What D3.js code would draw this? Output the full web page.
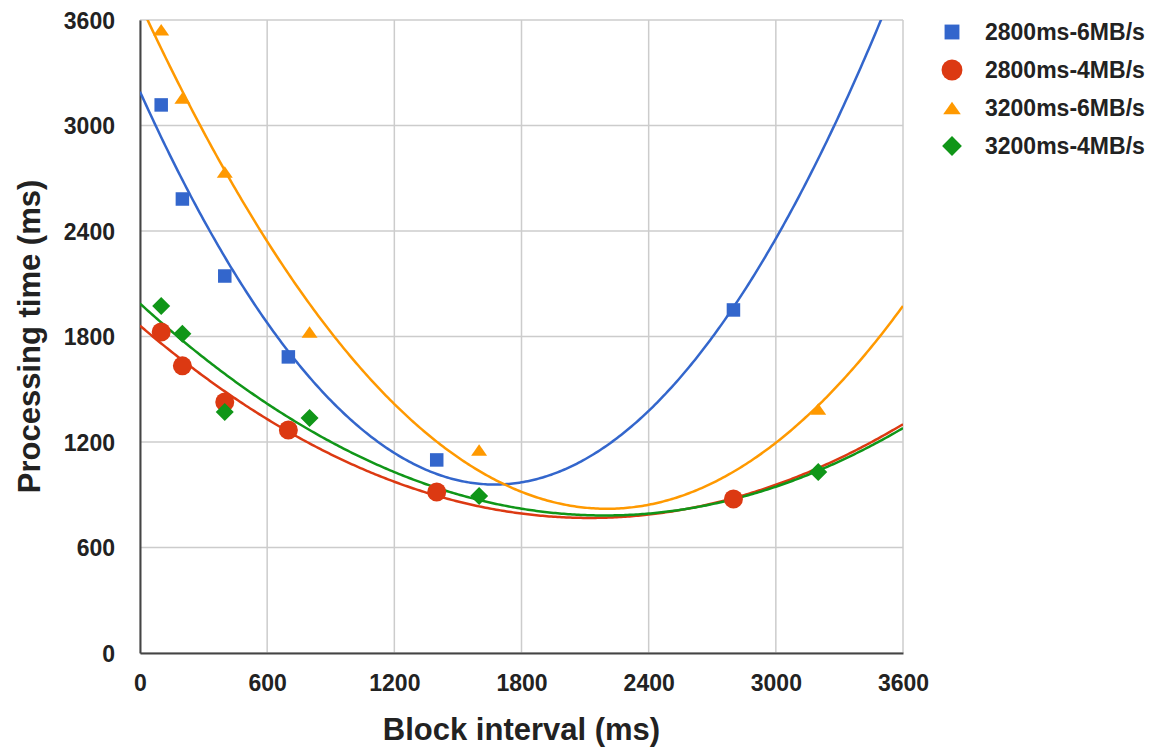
<!DOCTYPE html>
<html>
<head>
<meta charset="utf-8">
<script src="https://cdn.jsdelivr.net/npm/d3@7"></script>
<style>
  html, body { margin: 0; padding: 0; background: #fff; }
  svg text { font-family: "Liberation Sans", Arial, sans-serif; font-weight: bold; fill: #222; }
</style>
</head>
<body>
<div id="chart"></div>
<script>
// Block interval (ms) used by each run
const INTERVALS_2800 = [100, 200, 400, 700, 1400, 2800];
const INTERVALS_3200 = [100, 200, 400, 800, 1600, 3200];

// Processing time (ms)
const TIME_2800_6MB = [3117, 2582, 2144, 1684, 1098, 1951];
const TIME_2800_4MB = [1826, 1633, 1428, 1268, 916, 876];
const TIME_3200_6MB = [3544, 3157, 2736, 1826, 1155, 1388];
const TIME_3200_4MB = [1974, 1815, 1371, 1337, 893, 1030];

const SERIES_NAMES = ['2800ms-6MB/s', '2800ms-4MB/s', '3200ms-6MB/s', '3200ms-4MB/s'];
const TICKS = [0, 600, 1200, 1800, 2400, 3000, 3600];

const series = [
  { name: SERIES_NAMES[0], xs: INTERVALS_2800, ys: TIME_2800_6MB, color: '#3366cc', shape: 'square' },
  { name: SERIES_NAMES[1], xs: INTERVALS_2800, ys: TIME_2800_4MB, color: '#dc3912', shape: 'circle' },
  { name: SERIES_NAMES[2], xs: INTERVALS_3200, ys: TIME_3200_6MB, color: '#ff9900', shape: 'triangle' },
  { name: SERIES_NAMES[3], xs: INTERVALS_3200, ys: TIME_3200_4MB, color: '#109618', shape: 'diamond' },
];

const W = 1158, H = 748;
const margin = { top: 20, right: 255, bottom: 95, left: 140 };
const chartW = W - margin.left - margin.right;
const chartH = H - margin.top - margin.bottom;

const svg = d3.select('#chart').append('svg').attr('width', W).attr('height', H);
const g = svg.append('g').attr('transform', `translate(${margin.left},${margin.top})`);

const x = d3.scaleLinear().domain([0, 3600]).range([0, chartW]);
const y = d3.scaleLinear().domain([0, 3600]).range([chartH, 0]);

// Gridlines
g.append('g').selectAll('line').data(TICKS).enter().append('line')
  .attr('x1', d => x(d)).attr('x2', d => x(d)).attr('y1', 0).attr('y2', chartH)
  .attr('stroke', '#cccccc').attr('stroke-width', 1.5);
g.append('g').selectAll('line').data(TICKS).enter().append('line')
  .attr('x1', 0).attr('x2', chartW).attr('y1', d => y(d)).attr('y2', d => y(d))
  .attr('stroke', '#cccccc').attr('stroke-width', 1.5);

// Axes
const fmt = d3.format('d');
const xAxis = g.append('g').attr('transform', `translate(0,${chartH})`)
  .call(d3.axisBottom(x).tickValues(TICKS).tickFormat(fmt).tickSize(0).tickPadding(22));
const yAxis = g.append('g')
  .call(d3.axisLeft(y).tickValues(TICKS).tickFormat(fmt).tickSize(0).tickPadding(25));
[xAxis, yAxis].forEach(a => {
  a.select('.domain').attr('stroke', '#444').attr('stroke-width', 2);
  a.selectAll('text').style('font-size', '23px').attr('fill', '#222');
});
yAxis.selectAll('text').attr('dy', '0.36em');

// Quadratic least-squares trendline
function polyfit2(xs, ys) {
  const n = xs.length;
  let s = [0, 0, 0, 0, 0], t = [0, 0, 0];
  for (let i = 0; i < n; i++) {
    for (let k = 0; k <= 4; k++) s[k] += Math.pow(xs[i], k);
    for (let k = 0; k <= 2; k++) t[k] += ys[i] * Math.pow(xs[i], k);
  }
  const A = [[s[0], s[1], s[2], t[0]], [s[1], s[2], s[3], t[1]], [s[2], s[3], s[4], t[2]]];
  for (let c = 0; c < 3; c++) {
    for (let r = c + 1; r < 3; r++) {
      const f = A[r][c] / A[c][c];
      for (let k = c; k < 4; k++) A[r][k] -= f * A[c][k];
    }
  }
  const b = [0, 0, 0];
  for (let r = 2; r >= 0; r--) {
    let v = A[r][3];
    for (let k = r + 1; k < 3; k++) v -= A[r][k] * b[k];
    b[r] = v / A[r][r];
  }
  return xv => b[0] + b[1] * xv + b[2] * xv * xv;
}

svg.append('defs').append('clipPath').attr('id', 'plot-clip')
  .append('rect').attr('width', chartW).attr('height', chartH);

const line = d3.line().x(d => x(d[0])).y(d => y(d[1]));
const samples = d3.range(0, 3601, 10);
const trend = g.append('g').attr('clip-path', 'url(#plot-clip)');
series.forEach(s => {
  const f = polyfit2(s.xs, s.ys);
  trend.append('path')
    .datum(samples.map(v => [v, f(v)]))
    .attr('fill', 'none').attr('stroke', s.color).attr('stroke-width', 2.5)
    .attr('d', line);
});

// Marker shapes
function marker(sel, shape, color, big) {
  const k = big ? 1.1 : 1;
  if (shape === 'square') {
    const a = 13.5 * k;
    sel.append('rect').attr('x', -a / 2).attr('y', -a / 2).attr('width', a).attr('height', a).attr('fill', color);
  } else if (shape === 'circle') {
    sel.append('circle').attr('r', 9.5 * k).attr('fill', color);
  } else if (shape === 'triangle') {
    const w = 16 * k, h = 11.5 * k;
    sel.append('path').attr('d', `M0,${-h / 2}L${w / 2},${h / 2}L${-w / 2},${h / 2}Z`).attr('fill', color);
  } else {
    const r = 9 * k;
    sel.append('path').attr('d', `M0,${-r}L${r},0L0,${r}L${-r},0Z`).attr('fill', color);
  }
}

series.forEach(s => {
  s.xs.forEach((xv, i) => {
    const p = g.append('g').attr('transform', `translate(${x(xv)},${y(s.ys[i])})`);
    marker(p, s.shape, s.color, false);
  });
});

// Axis titles
svg.append('text')
  .attr('x', margin.left + chartW / 2).attr('y', 740)
  .attr('text-anchor', 'middle').style('font-size', '31px')
  .text('Block interval (ms)');
svg.append('text')
  .attr('transform', `translate(40,${margin.top + chartH / 2}) rotate(-90)`)
  .attr('text-anchor', 'middle').style('font-size', '31px')
  .text('Processing time (ms)');

// Legend
const legend = svg.append('g').attr('transform', 'translate(952,32)');
series.forEach((s, i) => {
  const row = legend.append('g').attr('transform', `translate(0,${i * 38})`);
  marker(row, s.shape, s.color, true);
  row.append('text').attr('x', 33).attr('dy', '0.36em').style('font-size', '23px').text(s.name);
});
</script>
</body>
</html>
